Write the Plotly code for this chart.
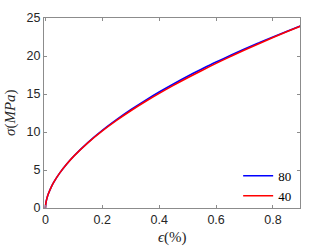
import plotly.graph_objects as go

# strain (%) and stress (MPa)
strain = [0, 0.002, 0.005, 0.01, 0.02, 0.03, 0.05, 0.075, 0.1, 0.15, 0.2, 0.25,
          0.3, 0.35, 0.4, 0.45, 0.5, 0.55, 0.6, 0.65, 0.7, 0.75, 0.8, 0.85, 0.9]
stress_40 = [0, 0.73, 1.23, 1.83, 2.72, 3.43, 4.59, 5.79, 6.83, 8.61, 10.15, 11.53,
             12.80, 13.98, 15.09, 16.14, 17.14, 18.10, 19.03, 19.92, 20.78, 21.61,
             22.43, 23.22, 23.99]
stress_80 = [0, 0.73, 1.23, 1.83, 2.72, 3.43, 4.59, 5.79, 6.84, 8.64, 10.21, 11.62,
             12.93, 14.13, 15.26, 16.32, 17.33, 18.28, 19.20, 20.07, 20.91, 21.72,
             22.50, 23.26, 24.00]

fig = go.Figure()
fig.add_trace(go.Scatter(x=strain, y=stress_80, mode='lines', name='80',
                         line=dict(color='#0000ff', width=1.6, shape='spline')))
fig.add_trace(go.Scatter(x=strain, y=stress_40, mode='lines', name='40',
                         line=dict(color='#ff0000', width=1.6, shape='spline')))

axis_style = dict(showline=True, mirror='ticks', linecolor='#8c8c8c', linewidth=1,
                  ticks='inside', ticklen=3, tickcolor='#8c8c8c', showgrid=False,
                  zeroline=False, automargin=False,
                  tickfont=dict(family='Liberation Sans', size=12.5, color='#262626'))

fig.update_xaxes(range=[-0.005, 0.895], tickvals=[0, 0.2, 0.4, 0.6, 0.8],
                 ticktext=['0', '0.2', '0.4', '0.6', '0.8'], **axis_style)
fig.update_yaxes(range=[0, 25], tickvals=[0, 5, 10, 15, 20, 25], **axis_style)

title_font = dict(family='Liberation Serif', size=15, color='#262626')
fig.add_annotation(text='<i>ϵ</i>(%)', xref='paper', yref='paper', x=0.5, y=0,
                   xanchor='center', yanchor='middle', yshift=-29,
                   showarrow=False, font=title_font)
fig.add_annotation(text='<i>σ</i>(<i>MPa</i>)', xref='paper', yref='paper', x=0, y=0.5,
                   xanchor='center', yanchor='middle', xshift=-34, textangle=-90,
                   showarrow=False, font=title_font)

fig.update_layout(
    width=332, height=249,
    margin=dict(l=44, r=32, t=18, b=41),
    plot_bgcolor='white', paper_bgcolor='white',
    showlegend=True,
    legend=dict(x=0.985, y=-0.015, xanchor='right', yanchor='bottom',
                bgcolor='rgba(0,0,0,0)', borderwidth=0, itemwidth=30,
                tracegroupgap=0,
                font=dict(family='Liberation Serif', size=13, color='#000')),
)

# drop the default body margin so the figure sits at the page corner
fig.write_html("out.html", config={'displayModeBar': False},
               post_script="document.body.style.margin='0';")
